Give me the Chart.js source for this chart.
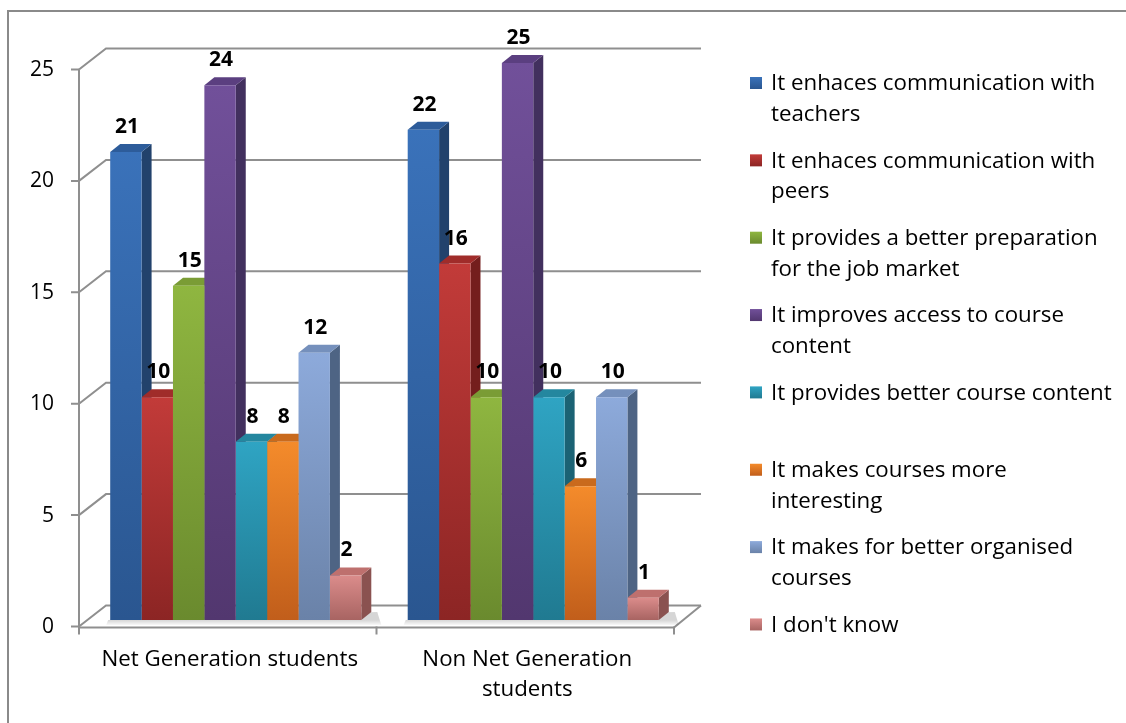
<!DOCTYPE html>
<html>
<head>
<meta charset="utf-8">
<script src="https://cdn.jsdelivr.net/npm/chart.js@4.4.0/dist/chart.umd.min.js"></script>
<style>
html,body{margin:0;padding:0;background:#fff;overflow:hidden}
canvas{display:block}
</style>
</head>
<body>
<canvas id="c" width="1126" height="723"></canvas>
<script>
// ---------- data ----------
const categories = ["Net Generation students", ["Non Net Generation", "students"]];
const seriesNames = [
  "It enhaces communication with teachers",
  "It enhaces communication with peers",
  "It provides a better preparation for the job market",
  "It improves access to course content",
  "It provides better course content",
  "It makes courses more interesting",
  "It makes for better organised courses",
  "I don't know"
];
const legendLines = [
  ["It enhaces communication with", "teachers"],
  ["It enhaces communication with", "peers"],
  ["It provides a better preparation", "for the job market"],
  ["It improves access to course", "content"],
  ["It provides better course content"],
  ["It makes courses more", "interesting"],
  ["It makes for better organised", "courses"],
  ["I don't know"]
];
const teachers      = [21, 22];
const peers         = [10, 16];
const jobMarket     = [15, 10];
const courseAccess  = [24, 25];
const betterContent = [8, 10];
const interesting   = [8, 6];
const organised     = [12, 10];
const dontKnow      = [2, 1];
const seriesValues = [teachers, peers, jobMarket, courseAccess, betterContent, interesting, organised, dontKnow];
const yTickValues = [0, 5, 10, 15, 20, 25];

// ---------- styles ----------
const palette = [
  {top:'#3A72BA', bottom:'#2A5690', side:'#22426C', cap:'#2D5C9A', key:'#3366A8'},
  {top:'#C23B39', bottom:'#8C2524', side:'#741E1D', cap:'#A02C2A', key:'#B3302E'},
  {top:'#8FB640', bottom:'#6A8A2E', side:'#587526', cap:'#7A9C35', key:'#80A63A'},
  {top:'#71509A', bottom:'#52376F', side:'#42305E', cap:'#5B3F80', key:'#634589'},
  {top:'#2FA4C3', bottom:'#207A91', side:'#1B6274', cap:'#24879F', key:'#2892AE'},
  {top:'#F48B2B', bottom:'#C15E1B', side:'#A5531A', cap:'#C96A1D', key:'#E07824'},
  {top:'#8DAADB', bottom:'#6A82A8', side:'#4E6484', cap:'#7590BC', key:'#7C96C5'},
  {top:'#DB8C8B', bottom:'#A86462', side:'#8A5250', cap:'#BE706E', key:'#C77C7A'}
];
const FAMILY = '"Open Sans", "Noto Sans", sans-serif';
const GRID = '#8f8f8f';
const PERSPECTIVE = { front:{dx:-8, dy:6.5}, back:{dx:19, dy:-14.5}, bar:{dx:10, dy:-8} };

function fitSize(text, target, weight) {
  const c = document.createElement('canvas').getContext('2d');
  c.font = weight + ' 100px ' + FAMILY;
  return Math.round(100 * target / c.measureText(text).width * 10) / 10;
}
const legendSize = fitSize("It enhaces communication with", 325, 'normal');
const catSize = fitSize("Net Generation students", 257, 'normal');
const tickSize = fitSize("25", 24, 'normal');
const valueSize = fitSize("21", 24, 'bold');

function frontFill(i) {
  return (ctx) => {
    const chart = ctx.chart, col = palette[i];
    if (!chart.chartArea || ctx.type !== 'data') return col.top;
    const ys = chart.scales.y;
    const yTop = ys.getPixelForValue(ctx.raw), yBot = ys.getPixelForValue(0);
    const g = chart.ctx.createLinearGradient(0, yTop, 0, yBot);
    g.addColorStop(0, col.top); g.addColorStop(1, col.bottom);
    return g;
  };
}

const scenePlugin = {
  id: 'scene3d',
  beforeDraw(chart) {
    const c = chart.ctx;
    c.save();
    c.fillStyle = '#fff'; c.fillRect(0, 0, chart.width, chart.height);
    c.strokeStyle = '#8a8a8a'; c.lineWidth = 2;
    c.strokeRect(8, 11, chart.width + 20, chart.height + 20);
    c.restore();
  },
  beforeDatasetsDraw(chart) {
    const c = chart.ctx, a = chart.chartArea, ys = chart.scales.y, xs = chart.scales.x;
    const F = PERSPECTIVE.front, K = PERSPECTIVE.back, D = PERSPECTIVE.bar;
    const y0 = ys.getPixelForValue(0);
    c.save();
    // floor
    c.beginPath();
    c.moveTo(a.left + F.dx, y0 + F.dy); c.lineTo(a.right + F.dx, y0 + F.dy);
    c.lineTo(a.right + K.dx, y0 + K.dy); c.lineTo(a.left + K.dx, y0 + K.dy); c.closePath();
    c.fillStyle = '#fff'; c.fill();
    // back wall grid lines (with left-wall diagonals)
    c.strokeStyle = GRID; c.lineWidth = 2; c.lineJoin = 'miter';
    for (const v of yTickValues) {
      const y = ys.getPixelForValue(v);
      c.beginPath();
      c.moveTo(a.left + F.dx, y + F.dy);
      c.lineTo(a.left + K.dx, y + K.dy);
      c.lineTo(a.right + K.dx, y + K.dy);
      c.stroke();
    }
    // floor front and right edges
    c.beginPath();
    c.moveTo(a.left + F.dx, y0 + F.dy + 1); c.lineTo(a.right + F.dx, y0 + F.dy + 1);
    c.lineTo(a.right + K.dx, y0 + K.dy);
    c.stroke();
    // front vertical axis with ticks
    const yMax = ys.getPixelForValue(ys.max);
    c.beginPath();
    c.moveTo(a.left + F.dx, yMax + F.dy); c.lineTo(a.left + F.dx, y0 + F.dy + 8);
    for (const v of yTickValues) {
      const y = ys.getPixelForValue(v) + F.dy;
      c.moveTo(a.left + F.dx - 8, y); c.lineTo(a.left + F.dx, y);
    }
    // category boundary ticks
    const n = categories.length, cw = (a.right - a.left) / n;
    for (let i = 0; i <= n; i++) {
      const x = xs.getPixelForValue(0) - cw / 2 + i * cw + F.dx;
      c.moveTo(x, y0 + F.dy); c.lineTo(x, y0 + F.dy + 8);
    }
    c.stroke();
    // soft floor shadow under each group
    const bars = [];
    chart.data.datasets.forEach((ds, di) => {
      chart.getDatasetMeta(di).data.forEach((el, idx) => bars.push({el, di, idx}));
    });
    for (let idx = 0; idx < n; idx++) {
      const g = bars.filter(b => b.idx === idx).map(b => b.el);
      const L = Math.min(...g.map(e => e.x - e.width / 2));
      const R = Math.max(...g.map(e => e.x + e.width / 2));
      const grd = c.createLinearGradient(0, y0, 0, y0 + 6);
      grd.addColorStop(0, 'rgba(0,0,0,0.16)'); grd.addColorStop(1, 'rgba(0,0,0,0)');
      c.fillStyle = grd;
      c.beginPath();
      c.moveTo(L - 2, y0); c.lineTo(R + D.dx + 6, y0 + D.dy);
      c.lineTo(R + D.dx + 10, y0 + 5); c.lineTo(L - 4, y0 + 5); c.closePath(); c.fill();
    }
    // bar sides and tops (fronts are drawn by Chart.js afterwards)
    bars.sort((p, q) => (p.el.x - q.el.x));
    for (const b of bars) {
      const e = b.el, col = palette[b.di];
      const L = e.x - e.width / 2, R = e.x + e.width / 2, T = e.y, B = e.base;
      const sg = c.createLinearGradient(0, T, 0, B);
      sg.addColorStop(0, col.side); sg.addColorStop(1, col.side);
      c.fillStyle = sg;
      c.beginPath();
      c.moveTo(R, T); c.lineTo(R + D.dx, T + D.dy); c.lineTo(R + D.dx, B + D.dy); c.lineTo(R, B); c.closePath(); c.fill();
      c.fillStyle = col.cap;
      c.beginPath();
      c.moveTo(L, T); c.lineTo(R, T); c.lineTo(R + D.dx, T + D.dy); c.lineTo(L + D.dx, T + D.dy); c.closePath(); c.fill();
    }
    c.restore();
  },
  afterDatasetsDraw(chart) {
    const c = chart.ctx;
    c.save();
    c.font = 'bold ' + valueSize + 'px ' + FAMILY;
    c.fillStyle = '#000'; c.textAlign = 'center'; c.textBaseline = 'middle';
    chart.data.datasets.forEach((ds, di) => {
      chart.getDatasetMeta(di).data.forEach((el, idx) => {
        c.fillText(String(ds.data[idx]), el.x + 1, el.y - 25);
      });
    });
    c.restore();
  },
  afterDraw(chart) {
    const c = chart.ctx;
    c.save();
    c.font = legendSize + 'px ' + FAMILY;
    c.textBaseline = 'middle'; c.textAlign = 'left';
    const x0 = 750, y0 = 83, step = 77.35, line = 30.5, box = 12;
    legendLines.forEach((lines, i) => {
      const y = y0 + i * step;
      const g = c.createLinearGradient(0, y - box / 2, 0, y + box / 2);
      g.addColorStop(0, palette[i].top); g.addColorStop(1, palette[i].bottom);
      c.fillStyle = g;
      c.fillRect(x0, y - box / 2, box, box);
      c.fillStyle = '#000';
      lines.forEach((t, j) => c.fillText(t, x0 + 21, y + j * line + 1));
    });
    c.restore();
  }
};

Chart.defaults.color = '#000';
Chart.defaults.font.family = FAMILY;

new Chart(document.getElementById('c'), {
  type: 'bar',
  data: {
    labels: categories,
    datasets: seriesNames.map((name, i) => ({
      label: name,
      data: seriesValues[i],
      backgroundColor: frontFill(i),
      borderWidth: 0,
      categoryPercentage: 0.844,
      barPercentage: 1
    }))
  },
  options: {
    responsive: false,
    animation: false,
    events: [],
    layout: { padding: { left: 0, top: 63, right: 444, bottom: 0 } },
    plugins: { legend: { display: false }, tooltip: { enabled: false } },
    scales: {
      x: {
        grid: { display: false, drawTicks: false },
        border: { display: false },
        ticks: {
          font: { size: catSize, lineHeight: '30px' },
          padding: 25, labelOffset: -6, maxRotation: 0, minRotation: 0, autoSkip: false
        },
        afterFit(s) { s.height = 103; }
      },
      y: {
        min: 0, max: 25,
        grid: { display: false, drawTicks: false },
        border: { display: false },
        ticks: { stepSize: 5, font: { size: tickSize }, padding: 33, labelOffset: 7 },
        afterFit(s) { s.width = 87; }
      }
    }
  },
  plugins: [scenePlugin]
});
</script>
</body>
</html>
